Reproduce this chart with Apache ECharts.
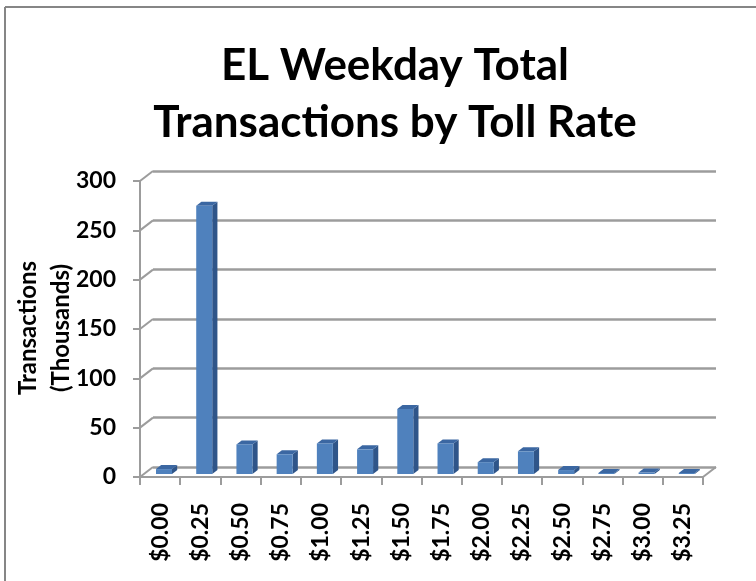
<!DOCTYPE html>
<html>
<head>
<meta charset="utf-8">
<script src="https://cdn.jsdelivr.net/npm/echarts@6/dist/echarts.min.js"></script>
<style>
  html, body { margin: 0; padding: 0; background: #fff; }
  #main { width: 756px; height: 581px; }
</style>
</head>
<body>
<div id="main"></div>
<script>
var categorias = ['$0.00', '$0.25', '$0.50', '$0.75', '$1.00', '$1.25', '$1.50',
                  '$1.75', '$2.00', '$2.25', '$2.50', '$2.75', '$3.00', '$3.25'];
var transacciones = [5, 272, 30, 20, 31, 25, 66, 31, 12, 23, 4, 1, 1.5, 1];
var marcasY = [0, 50, 100, 150, 200, 250, 300];
var nombreEjeY = 'Transactions\n(Thousands)';

var fuente = 'Lato';
var gris = '#9c9c9c';
// profundidad del efecto 3D (pixeles)
var dx = 13, dy = 10;

function barra3D(params, api) {
     var i = api.value(0);
     var v = api.value(1);
     var p = api.coord([i, v]);
     var b = api.coord([i, 0]);
     var w = 16;
     var x0 = p[0] + dx * 0.3 - w / 2;
     var x1 = x0 + w;
     var yt = p[1] - dy * 0.3;
     var yb = b[1] - dy * 0.3;
     var ox = dx * 0.4, oy = dy * 0.4;
     return {
          type: 'group',
          children: [
               { type: 'polygon', shape: { points: [[x1, yt], [x1 + ox, yt - oy], [x1 + ox, yb - oy], [x1, yb]] },
                 style: { fill: '#2f5589' } },
               { type: 'polygon', shape: { points: [[x0, yt], [x0 + ox, yt - oy], [x1 + ox, yt - oy], [x1, yt]] },
                 style: { fill: '#3b67a2' } },
               { type: 'rect', shape: { x: x0, y: yt, width: w, height: yb - yt },
                 style: { fill: '#4f81bd' } }
          ]
     };
}

function diagonales(params, api) {
     var v = api.value(0);
     var cs = params.coordSys;
     var p = api.coord([0, v]);
     var x = cs.x;
     var hijos = [
          { type: 'line', shape: { x1: x, y1: p[1], x2: x + dx, y2: p[1] - dy },
            style: { stroke: gris, lineWidth: 2 } }
     ];
     if (v === 0) {
          hijos.push({ type: 'line', shape: { x1: x + cs.width, y1: p[1], x2: x + cs.width + dx, y2: p[1] - dy },
                       style: { stroke: gris, lineWidth: 2 } });
     }
     return { type: 'group', children: hijos };
}

var grafica = echarts.init(document.getElementById('main'));

grafica.setOption({
     animation: false,
     textStyle: { fontFamily: fuente, fontWeight: 700 },
     title: {
          text: 'EL Weekday Total\nTransactions by Toll Rate',
          left: 390,
          textAlign: 'center',
          top: 32,
          textStyle: {
               fontFamily: fuente,
               fontWeight: 'bold',
               fontSize: 44,
               lineHeight: 57,
               color: '#000'
          }
     },
     graphic: [
          { type: 'line', shape: { x1: 5, y1: 7, x2: 756, y2: 7 }, style: { stroke: '#868686', lineWidth: 2 } },
          { type: 'line', shape: { x1: 5, y1: 7, x2: 5, y2: 581 }, style: { stroke: '#868686', lineWidth: 2 } },
          {
               type: 'text',
               x: 45,
               y: 328,
               rotation: Math.PI / 2,
               style: {
                    text: nombreEjeY,
                    fontFamily: fuente,
                    fontWeight: 'bold',
                    fontSize: 24,
                    lineHeight: 33,
                    fill: '#000',
                    align: 'center',
                    verticalAlign: 'middle'
               }
          }
     ],
     grid: [
          { left: 140, right: 53, top: 181, bottom: 104, outerBoundsMode: 'none', containLabel: false },
          { left: 153, right: 40, top: 171, bottom: 114, outerBoundsMode: 'none', containLabel: false }
     ],
     xAxis: [{
          type: 'category',
          gridIndex: 0,
          data: categorias,
          axisLine: { lineStyle: { color: gris, width: 2 } },
          axisTick: { show: true, length: 8, lineStyle: { color: gris, width: 2 } },
          axisLabel: {
               interval: 0,
               rotate: 90,
               margin: 26,
               fontFamily: fuente,
               fontWeight: 'bold',
               fontSize: 23,
               color: '#000'
          }
     }, {
          type: 'category',
          gridIndex: 1,
          data: categorias,
          show: false
     }],
     yAxis: [{
          type: 'value',
          gridIndex: 0,
          min: 0,
          max: 300,
          interval: 50,
          axisLine: { show: true, lineStyle: { color: gris, width: 2 } },
          axisTick: { show: true, length: 7, lineStyle: { color: gris, width: 2 } },
          splitLine: { show: false },
          axisLabel: {
               margin: 24,
               fontFamily: fuente,
               fontWeight: 'bold',
               fontSize: 23,
               color: '#000'
          }
     }, {
          type: 'value',
          gridIndex: 1,
          min: 0,
          max: 300,
          interval: 50,
          axisLine: { show: false },
          axisTick: { show: false },
          axisLabel: { show: false },
          splitLine: { show: true, lineStyle: { color: gris, width: 2.5 } }
     }],
     series: [{
          type: 'custom',
          xAxisIndex: 0,
          yAxisIndex: 0,
          renderItem: diagonales,
          data: marcasY.map(function (v) { return [v]; }),
          encode: { y: 0 },
          z: 1
     }, {
          name: 'Transactions',
          type: 'custom',
          xAxisIndex: 0,
          yAxisIndex: 0,
          renderItem: barra3D,
          data: transacciones.map(function (v, i) { return [i, v]; }),
          encode: { x: 0, y: 1 },
          z: 5
     }]
});
</script>
</body>
</html>
